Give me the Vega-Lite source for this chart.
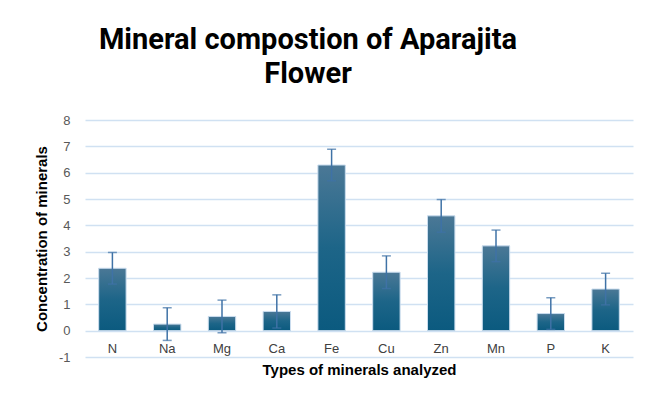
{
  "$schema": "https://vega.github.io/schema/vega-lite/v6.json",
  "autosize": {"type": "none"},
  "width": 548,
  "height": 237,
  "padding": {"left": 85, "top": 120, "right": 19, "bottom": 45},
  "background": "white",
  "config": {"view": {"stroke": null}},
  "title": {
    "text": ["Mineral compostion of Aparajita", "Flower"],
    "font": "Roboto",
    "fontSize": 29,
    "fontWeight": "bold",
    "color": "#000000",
    "anchor": "middle",
    "dx": -51,
    "lineHeight": 34,
    "offset": 25
  },
  "data": {
    "values": [
      {"mineral": "N", "value": 2.37, "err": 0.6},
      {"mineral": "Na", "value": 0.25, "err": 0.62},
      {"mineral": "Mg", "value": 0.54, "err": 0.62},
      {"mineral": "Ca", "value": 0.73, "err": 0.63},
      {"mineral": "Fe", "value": 6.29, "err": 0.6},
      {"mineral": "Cu", "value": 2.22, "err": 0.62},
      {"mineral": "Zn", "value": 4.36, "err": 0.62},
      {"mineral": "Mn", "value": 3.22, "err": 0.6},
      {"mineral": "P", "value": 0.65, "err": 0.6},
      {"mineral": "K", "value": 1.58, "err": 0.6}
    ]
  },
  "encoding": {
    "x": {
      "field": "mineral",
      "type": "nominal",
      "sort": null,
      "scale": {"paddingInner": 0.5, "paddingOuter": 0.25},
      "axis": {
        "title": "Types of minerals analyzed",
        "titleFont": "Liberation Sans",
        "titleFontSize": 15,
        "titleFontWeight": "bold",
        "titleColor": "#000000",
        "titlePadding": 5,
        "labelAngle": 0,
        "labelFont": "Liberation Sans",
        "labelFontSize": 13,
        "labelColor": "#404040",
        "labelPadding": -15,
        "domain": false,
        "ticks": false,
        "grid": false
      }
    },
    "y": {
      "field": "value",
      "type": "quantitative",
      "scale": {"domain": [-1, 8], "nice": false, "zero": false},
      "axis": {
        "title": "Concentration of minerals",
        "titleFont": "Liberation Sans",
        "titleFontSize": 15,
        "titleFontWeight": "bold",
        "titleColor": "#000000",
        "titlePadding": 9,
        "values": [-1, 0, 1, 2, 3, 4, 5, 6, 7, 8],
        "labelOverlap": false,
        "labelExpr": "replace(datum.label, '\u2212', '-')",
        "labelFont": "Liberation Sans",
        "labelFontSize": 13,
        "labelColor": "#595959",
        "labelPadding": 15,
        "domain": false,
        "ticks": false,
        "grid": true,
        "gridColor": "#d0e1f2",
        "gridWidth": 1.3
      }
    }
  },
  "layer": [
    {
      "mark": {
        "type": "bar",
        "color": {
          "gradient": "linear",
          "x1": 0, "y1": 0, "x2": 0, "y2": 1,
          "stops": [
            {"offset": 0, "color": "#4b7896"},
            {"offset": 0.5, "color": "#1d6588"},
            {"offset": 1, "color": "#0b5a7f"}
          ]
        },
        "stroke": "#c9dcee",
        "strokeWidth": 1
      }
    },
    {
      "mark": {
        "type": "errorbar",
        "color": "#3f72a6",
        "thickness": 1.5,
        "ticks": {"size": 9, "thickness": 1.5}
      },
      "encoding": {
        "yError": {"field": "err"}
      }
    }
  ]
}
